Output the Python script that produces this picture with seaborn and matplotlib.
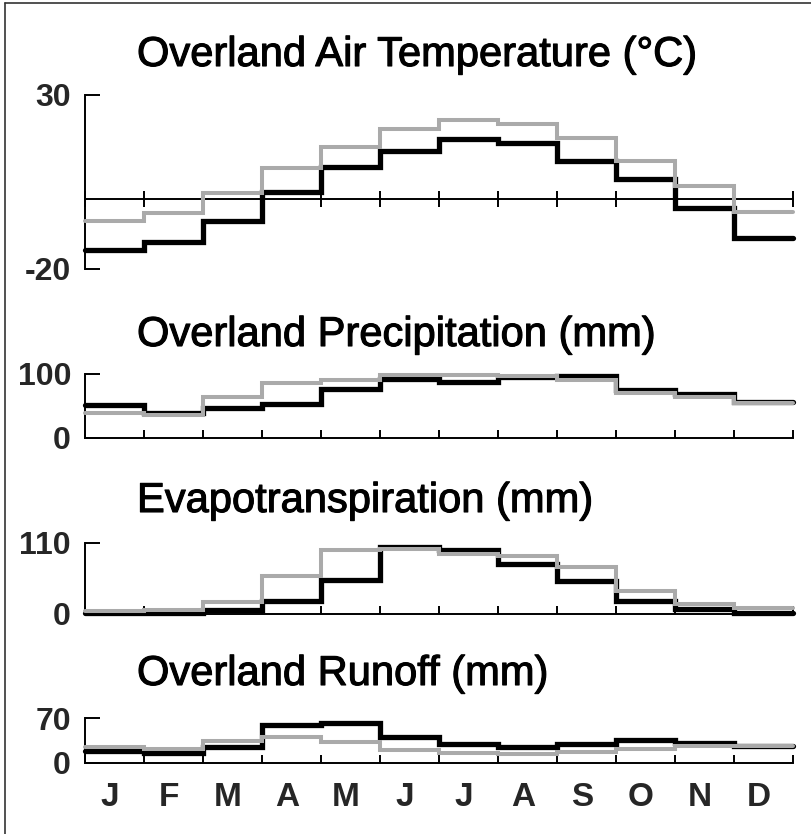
import numpy as np
import matplotlib
matplotlib.use("Agg")
import matplotlib.pyplot as plt
import matplotlib.patheffects as pe
from matplotlib.lines import Line2D
import seaborn as sns

# Monthly climatology, two series per panel (black and grey step lines)
months = ["J", "F", "M", "A", "M", "J", "J", "A", "S", "O", "N", "D"]

temp_black = [-14.8, -12.3, -6.3, 2.0, 9.2, 13.8, 17.4, 16.1, 11.1, 5.7, -2.6, -11.1]
temp_grey = [-6.3, -3.9, 1.8, 8.9, 15.0, 20.2, 22.8, 21.7, 17.6, 10.9, 3.7, -3.7]

precip_black = [51, 39.5, 46, 53, 76, 91, 87, 95, 96, 74, 68, 56]
precip_grey = [38.5, 36, 63, 86, 90, 97, 97, 96, 90, 69, 64, 55]

et_black = [0.5, 1, 6, 19, 52, 103, 98, 77, 50, 19, 7, 1]
et_grey = [4.5, 6, 18, 58, 98, 100, 92, 89, 72, 35, 15, 8]

runoff_black = [19, 16, 25, 59, 63, 41, 30.5, 25, 29.5, 36, 32, 27]
runoff_grey = [25, 22.5, 35, 41, 33, 20, 16, 14, 17, 22.5, 26, 27]

titles = [
    "Overland Air Temperature (\u00b0C)",
    "Overland Precipitation (mm)",
    "Evapotranspiration (mm)",
    "Overland Runoff (mm)",
]
y_ranges = [(-20, 30), (0, 100), (0, 110), (0, 70)]
series = [
    (temp_black, temp_grey),
    (precip_black, precip_grey),
    (et_black, et_grey),
    (runoff_black, runoff_grey),
]

sns.set_theme(style="white")
plt.rcParams["font.family"] = ["Liberation Sans", "DejaVu Sans"]

W, H = 811, 834
fig = plt.figure(figsize=(W / 100, H / 100), dpi=100)
fig.patch.set_facecolor("white")

# panel boxes in pixels: left, right, top (ymax), bottom (ymin)
boxes = [
    (85, 793, 95, 268.5),
    (85, 793, 373.5, 438),
    (85, 793, 542.7, 613.5),
    (85, 793, 718.3, 763),
]
title_baselines = [66, 346, 512, 685]
title_left = 137

BLACK = "#000000"
GREY = "#aaaaaa"
lw_axis = 1.4

edges = np.arange(13)

for i, (box, (ymin, ymax), (blk, gry), title) in enumerate(
        zip(boxes, y_ranges, series, titles)):
    x0, x1, ytop, ybot = box
    ax = fig.add_axes([x0 / W, 1 - ybot / H, (x1 - x0) / W, (ybot - ytop) / H])
    ax.set_facecolor("none")

    blk_steps = np.append(blk, blk[-1])
    gry_steps = np.append(gry, gry[-1])
    sns.lineplot(x=edges, y=blk_steps, ax=ax, color=BLACK, linewidth=3.8,
                 drawstyle="steps-post", estimator=None, sort=False,
                 solid_joinstyle="miter", clip_on=False, zorder=3)
    sns.lineplot(x=edges, y=gry_steps, ax=ax, color=GREY, linewidth=2.9,
                 drawstyle="steps-post", estimator=None, sort=False,
                 solid_joinstyle="miter", clip_on=False, zorder=4)

    ax.set_xlim(0, 12)
    ax.set_ylim(ymin, ymax)
    ax.set_xlabel("")
    ax.set_ylabel("")

    for s in ("top", "right"):
        ax.spines[s].set_visible(False)
    for s in ("left", "bottom"):
        ax.spines[s].set_color(BLACK)
        ax.spines[s].set_linewidth(lw_axis)
    ax.spines["left"].set_bounds(ymin, ymax)

    ax.set_yticks([ymin, ymax], labels=[str(ymin), str(ymax)])
    ax.tick_params(axis="y", direction="in", length=11, width=lw_axis,
                   left=True, color=BLACK, pad=10, labelsize=23)
    for lab in ax.get_yticklabels():
        lab.set_fontweight("bold")

    ax.set_xticks(edges, labels=[""] * len(edges))
    if i == 0:
        ax.spines["bottom"].set_position(("data", 0))
        ax.tick_params(axis="x", which="major", direction="inout", length=11,
                       width=lw_axis, bottom=True, color=BLACK)
    else:
        ax.tick_params(axis="x", which="major", direction="in", length=6,
                       width=lw_axis, bottom=True, color=BLACK)

    if i == len(boxes) - 1:
        ax.set_xticks(edges[:-1] + 0.42, labels=months, minor=True)
        ax.tick_params(axis="x", which="minor", length=0, pad=14,
                       labelsize=24)
        for lab in ax.get_xticklabels(minor=True):
            lab.set_fontweight("bold")

    fig.text(title_left / W, 1 - title_baselines[i] / H, title,
             fontsize=30, ha="left", va="baseline", color=BLACK,
             path_effects=[pe.withStroke(linewidth=0.8, foreground=BLACK)])

# frame lines along the left and top edges
fig.add_artist(Line2D([5 / W, 5 / W], [0, 1 - 3 / H], color="#333333",
                      linewidth=1.2, transform=fig.transFigure))
fig.add_artist(Line2D([5 / W, 1], [1 - 3 / H, 1 - 3 / H], color="#333333",
                      linewidth=1.2, transform=fig.transFigure))

fig.savefig("out.png", dpi=100, facecolor="white")
